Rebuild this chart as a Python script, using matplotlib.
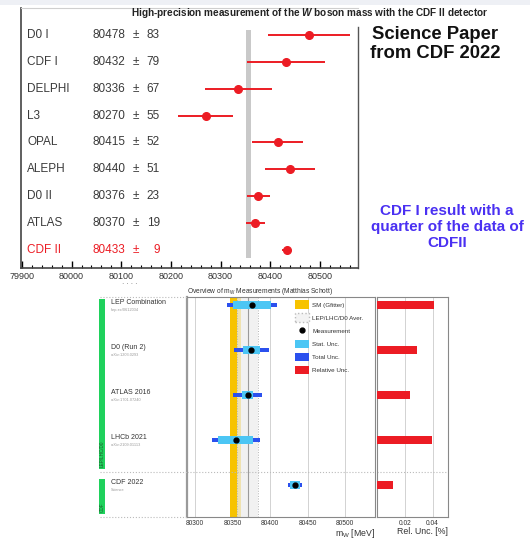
import numpy as np
import matplotlib.pyplot as plt
from matplotlib.patches import Rectangle, Patch
from matplotlib.lines import Line2D
from matplotlib.transforms import blended_transform_factory

plt.rcParams['font.family'] = ['Liberation Sans', 'DejaVu Sans']
plt.rcParams['mathtext.fontset'] = 'custom'
plt.rcParams['mathtext.it'] = 'Liberation Sans:italic:bold'
plt.rcParams['mathtext.rm'] = 'Liberation Sans'

# --- top chart: CDF II summary of W mass measurements ---
names = ["D0 I", "CDF I", "DELPHI", "L3", "OPAL", "ALEPH", "D0 II", "ATLAS", "CDF II"]
mass = [80478, 80432, 80336, 80270, 80415, 80440, 80376, 80370, 80433]
err = [83, 79, 67, 55, 52, 51, 23, 19, 9]
highlight = "CDF II"
sm_band = (80352, 80361)
top_ticks = [79900, 80000, 80100, 80200, 80300, 80400, 80500]

# --- bottom chart: overview of m_W measurements ---
ov_names = ["LEP Combination", "D0 (Run 2)", "ATLAS 2016", "LHCb 2021", "CDF 2022"]
ov_refs = ["hep-ex/0612034", "arXiv:1203.0293", "arXiv:1701.07240", "arXiv:2109.01113", "Science"]
ov_mass = [80376, 80375, 80370, 80354, 80433.5]
ov_stat = [25, 11, 7, 23, 6.4]
ov_tot = [33, 23, 19, 32, 9.4]
ov_groups = [("LEP/LHC/D0", 0, 3), ("CDF", 4, 4)]
sm_gfitter = (80354, 7)
lhc_avg = (80370, 14)
ov_ticks = [80300, 80350, 80400, 80450, 80500]
rel_ticks = [0.02, 0.04]

red = '#ec1c24'
yellow = '#f7c300'
lightblue = '#4cc6f4'
blue = '#2b50ee'
green = '#1fd15c'

W, H = 530, 540
def box(x0, y0, x1, y1):
    return [x0 / W, 1 - y1 / H, (x1 - x0) / W, (y1 - y0) / H]

fig = plt.figure(figsize=(5.3, 5.4), dpi=100)
fig.patches.append(Rectangle((0, 1 - 5 / H), 1, 5 / H, transform=fig.transFigure,
                             color='#eef0f5', lw=0))

ax = fig.add_axes(box(21, 8, 358, 268))
ypos = np.arange(len(names))
ax.axvspan(sm_band[0], sm_band[1], ymin=0.038, ymax=0.915, color='#c9c9c9', lw=0)
ax.errorbar(mass, ypos, xerr=err, fmt='o', color=red, ms=5.5, elinewidth=1.4, capsize=0)
ax.set_xlim(79898, 80577)
ax.set_ylim(8.67, -1.0)
ax.set_yticks([])
ax.set_xticks(top_ticks)
ax.set_xticks(np.arange(79900, 80577, 20), minor=True)
ax.tick_params(axis='x', which='major', direction='in', length=5, width=1,
               labelsize=6.5, labelcolor='#333', pad=3)
ax.tick_params(axis='x', which='minor', direction='in', length=2.5, width=0.8)
for s in ['left', 'bottom']:
    ax.spines[s].set_color('#444')
    ax.spines[s].set_linewidth(1.2)
ax.spines['top'].set_color('#cfcfcf')
ax.spines['right'].set_visible(False)
ax.plot([1, 1], [0, 0.927], transform=ax.transAxes, color='#555', lw=1, clip_on=False)

tr = blended_transform_factory(ax.transAxes, ax.transData)
for i, (n, m, e) in enumerate(zip(names, mass, err)):
    c = red if n == highlight else '#3a3a3a'
    ax.text(0.018, i, n, transform=tr, va='center', ha='left', fontsize=8.5, color=c)
    ax.text(0.211, i, str(m), transform=tr, va='center', ha='left', fontsize=8.5, color=c)
    ax.text(0.341, i, '±', transform=tr, va='center', ha='center', fontsize=8.5, color=c)
    ax.text(0.412, i, str(e), transform=tr, va='center', ha='right', fontsize=8.5, color=c)

fig.text(310 / W, 1 - 13 / H,
         r"High-precision measurement of the $W$ boson mass with the CDF II detector",
         ha='center', va='center', fontsize=7.2, weight='bold', color='#222',
         family=['Liberation Sans Narrow', 'Liberation Sans', 'DejaVu Sans'])
fig.text(130 / W, 1 - 284 / H, '· · · ·', fontsize=5, color='#666', ha='center', va='center')

fig.text(435 / W, 1 - 44 / H, "Science Paper\nfrom CDF 2022", ha='center', va='center',
         fontsize=13.3, weight='bold', linespacing=1.1, color='#111')
fig.text(447 / W, 1 - 227 / H, "CDF I result with a\nquarter of the data of\nCDFII",
         ha='center', va='center', fontsize=11, weight='bold', linespacing=1.15,
         color='#4a30f2')

# bottom: main panel
yy = np.arange(len(ov_names))
ylim2 = (4.71, -0.18)
sep = 3.71
ov_mass = np.array(ov_mass)
ov_stat = np.array(ov_stat)
ov_tot = np.array(ov_tot)

ax2 = fig.add_axes(box(187, 297, 375, 517))
ax2.set_xlim(80289, 80540)
ax2.set_ylim(*ylim2)
for x in [80300, 80400, 80450, 80500]:
    ax2.axvline(x, color='#d2d2d2', lw=0.7, zorder=0)
ax2.axvspan(sm_gfitter[0] - sm_gfitter[1], sm_gfitter[0] + sm_gfitter[1],
            color=yellow, lw=0, zorder=1)
ax2.axvspan(lhc_avg[0] - lhc_avg[1], lhc_avg[0] + lhc_avg[1],
            color='#ededed', alpha=0.75, lw=0, zorder=2)
ax2.axvline(lhc_avg[0], color='#9a9a9a', lw=0.8, zorder=2)
for x in [lhc_avg[0] - lhc_avg[1], lhc_avg[0] + lhc_avg[1]]:
    ax2.axvline(x, color='#b5b5b5', lw=0.7, ls=':', zorder=2)
ax2.barh(yy, 2 * ov_tot, left=ov_mass - ov_tot, height=0.09, color=blue, zorder=3)
ax2.barh(yy, 2 * ov_stat, left=ov_mass - ov_stat, height=0.16, color=lightblue, zorder=4)
ax2.plot(ov_mass, yy, 'o', color='k', ms=3.5, zorder=5)
ax2.axhline(sep, ls=':', color='#bbbbbb', lw=0.8)
ax2.set_yticks([])
ax2.set_xticks(ov_ticks)
ax2.tick_params(axis='x', length=0, labelsize=4.8, pad=2, labelcolor='#333')
for s in ax2.spines.values():
    s.set_color('#888')
    s.set_linewidth(0.8)
ax2.spines['left'].set_color('#9a9a9a')
ax2.spines['left'].set_linewidth(1.6)
ax2.set_xlabel(r'$\mathregular{m_W}$ [MeV]', fontsize=6.3, loc='right', labelpad=0.5, color='#333')
ax2.set_title(r"Overview of $\mathregular{m_W}$ Measurements (Matthias Schott)",
              fontsize=4.8, loc='left', pad=1.5, color='#333')

handles = [Patch(facecolor=yellow, label='SM (Gfitter)'),
           Patch(facecolor='#f3f3f3', edgecolor='#bbbbbb', ls=':', label='LEP/LHC/D0 Aver.'),
           Line2D([], [], marker='o', color='k', ls='none', ms=3.5, label='Measurement'),
           Patch(facecolor=lightblue, label='Stat. Unc.'),
           Patch(facecolor=blue, label='Total Unc.'),
           Patch(facecolor=red, label='Relative Unc.')]
leg = ax2.legend(handles=handles, loc='upper left', bbox_to_anchor=((295 - 187) / 188, 0.985),
                 frameon=False, fontsize=4.5, handlelength=2.2, handleheight=1.7,
                 labelspacing=0.75, handletextpad=0.6, borderaxespad=0, borderpad=0)
for t in leg.get_texts():
    t.set_color('#333')

# bottom: relative uncertainty panel
rel = ov_tot / ov_mass * 100
ax3 = fig.add_axes(box(377, 297, 448, 517))
ax3.set_xlim(0, 0.051)
ax3.set_ylim(*ylim2)
for x in rel_ticks:
    ax3.axvline(x, color='#d2d2d2', lw=0.7, zorder=0)
ax3.barh(yy, rel, height=0.16, color=red, zorder=3)
ax3.axhline(sep, ls=':', color='#bbbbbb', lw=0.8)
ax3.set_yticks([])
ax3.set_xticks(rel_ticks)
ax3.set_xticklabels(['0.02', '0.04'])
ax3.tick_params(axis='x', length=0, labelsize=4.8, pad=2, labelcolor='#333')
for s in ax3.spines.values():
    s.set_color('#888')
    s.set_linewidth(0.8)
ax3.set_xlabel('Rel. Unc. [%]', fontsize=6.3, loc='right', labelpad=0.5, color='#333')

# bottom: labels and group bars on the left
ax4 = fig.add_axes(box(95, 297, 187, 517))
ax4.set_xlim(0, 92)
ax4.set_ylim(*ylim2)
ax4.axis('off')
for lab, i0, i1 in ov_groups:
    y0, y1 = i0 - 0.14, i1 + 0.64
    ax4.add_patch(Rectangle((4, y0), 6, y1 - y0, color=green, lw=0))
    ax4.text(7, y1 - 0.05, lab, rotation=90, ha='center', va='bottom', fontsize=3.3,
             color='#1d5c2c')
for i, (n, r) in enumerate(zip(ov_names, ov_refs)):
    ax4.text(16, i - 0.06, n, fontsize=5, color='#333', va='center', ha='left')
    ax4.text(16, i + 0.1, r, fontsize=2.8, color='#999', va='center', ha='left')
for y in [ylim2[1], sep, ylim2[0]]:
    ax4.axhline(y, xmin=0.05, xmax=1, ls=':', color='#bbbbbb', lw=0.8, clip_on=False)

fig.savefig('out.png', dpi=100)
